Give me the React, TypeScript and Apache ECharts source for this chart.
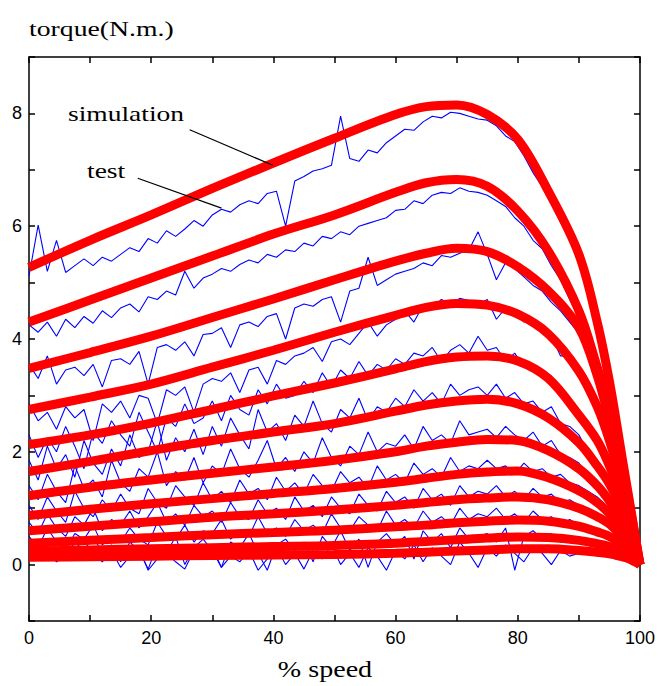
import React, { useEffect, useRef } from "react";
import * as echarts from "echarts";

// Simulation (red) curves: read at these % speed positions
const SIM_X = [0, 10, 20, 30, 40, 50, 60, 65, 70, 75, 80, 85, 90, 93, 95, 97, 98, 100];
const SIM_1 = [5.27, 5.75, 6.2, 6.67, 7.12, 7.56, 7.98, 8.12, 8.15, 7.98, 7.54, 6.62, 5.5, 4.3, 3.25, 1.95, 1.3, 0];
const SIM_2 = [4.3, 4.69, 5.08, 5.47, 5.86, 6.2, 6.6, 6.77, 6.83, 6.71, 6.27, 5.56, 4.5, 3.5, 2.8, 1.8, 1.25, 0];
const SIM_3 = [3.48, 3.76, 4.05, 4.38, 4.71, 5.05, 5.38, 5.52, 5.61, 5.55, 5.28, 4.85, 4.2, 3.35, 2.55, 1.65, 1.12, 0];
const SIM_4 = [2.75, 2.97, 3.2, 3.5, 3.8, 4.12, 4.42, 4.56, 4.63, 4.6, 4.44, 4.09, 3.43, 2.8, 2.2, 1.45, 1.0, 0];
const SIM_5 = [2.13, 2.3, 2.51, 2.75, 2.99, 3.22, 3.47, 3.6, 3.68, 3.7, 3.61, 3.3, 2.65, 2.2, 1.75, 1.2, 0.85, 0];
const SIM_6 = [1.65, 1.83, 2.02, 2.2, 2.35, 2.5, 2.72, 2.83, 2.9, 2.93, 2.85, 2.6, 2.16, 1.75, 1.43, 1.0, 0.75, 0];
const SIM_7 = [1.22, 1.37, 1.5, 1.62, 1.73, 1.85, 2.0, 2.1, 2.17, 2.22, 2.2, 2.02, 1.7, 1.4, 1.13, 0.8, 0.6, 0];
const SIM_8 = [0.87, 0.98, 1.08, 1.17, 1.26, 1.35, 1.46, 1.53, 1.6, 1.64, 1.66, 1.54, 1.31, 1.1, 0.9, 0.62, 0.47, 0];
const SIM_9 = [0.6, 0.68, 0.76, 0.84, 0.9, 0.97, 1.05, 1.1, 1.15, 1.18, 1.2, 1.15, 1.0, 0.85, 0.72, 0.5, 0.38, 0];
const SIM_10 = [0.38, 0.43, 0.48, 0.53, 0.57, 0.61, 0.67, 0.7, 0.74, 0.77, 0.79, 0.77, 0.68, 0.58, 0.5, 0.36, 0.28, 0];
const SIM_11 = [0.24, 0.26, 0.28, 0.3, 0.32, 0.34, 0.38, 0.41, 0.44, 0.47, 0.49, 0.48, 0.43, 0.37, 0.32, 0.23, 0.18, 0];
const SIM_12 = [0.13, 0.14, 0.15, 0.16, 0.17, 0.18, 0.2, 0.22, 0.24, 0.26, 0.28, 0.28, 0.25, 0.22, 0.19, 0.14, 0.11, 0];

// Test (blue) measurements: sampled at these % speed positions
const TEST_X = [
  0, 1.5, 3, 4.5, 6, 7.5, 9, 10.5, 12, 13.5,
  15, 16.5, 18, 19.5, 21, 22.5, 24, 25.5, 27, 28.5,
  30, 31.5, 33, 34.5, 36, 37.5, 39, 40.5, 42, 43.5,
  45, 46.5, 48, 49.5, 51, 52.5, 54, 55.5, 57, 58.5,
  60, 61.5, 63, 64.5, 66, 67.5, 69, 70.5, 72, 73.5,
  75, 76.5, 78, 79.5, 81, 82.5, 84, 85.5, 87, 88.5,
  90, 91.5, 93, 94.5, 96, 97.5, 99,
];
const TEST_1 = [
  5.12, 6.02, 5.2, 5.75, 5.18, 5.3, 5.42, 5.3, 5.45, 5.38,
  5.5, 5.62, 5.55, 5.78, 5.7, 5.92, 5.82, 5.95, 6.1, 6.0,
  6.2, 6.3, 6.25, 6.38, 6.45, 6.4, 6.58, 6.62, 6.0, 6.8,
  6.88, 6.98, 7.02, 7.08, 7.95, 7.2, 7.15, 7.35, 7.3, 7.48,
  7.6, 7.72, 7.7, 7.85, 7.95, 7.92, 8.02, 8.0, 7.95, 7.9,
  7.88, 7.78, 7.6, 7.5, 7.25, 6.95, 6.7, 6.4, 6.08, 5.75,
  5.4, 4.8, 4.2, 3.4, 2.5, 1.5, 0.55,
];
const TEST_2 = [
  4.25, 4.12, 4.3, 4.05, 4.35, 4.2, 4.4, 4.28, 4.5, 4.38,
  4.55, 4.62, 4.48, 4.75, 4.7, 4.85, 4.78, 5.2, 4.9, 5.08,
  5.15, 5.25, 5.2, 5.32, 5.4, 5.35, 5.5, 5.45, 5.58, 5.55,
  5.7, 5.65, 5.82, 5.78, 5.9, 5.85, 6.0, 6.05, 6.1, 6.15,
  6.28, 6.3, 6.45, 6.4, 6.55, 6.6, 6.58, 6.68, 6.62, 6.6,
  6.55, 6.45, 6.35, 6.15, 6.0, 5.75, 5.6, 5.3, 5.05, 4.7,
  4.4, 3.9, 3.4, 2.85, 2.2, 1.4, 0.55,
];
const TEST_3 = [
  3.55, 3.3, 3.7, 3.2, 3.45, 3.5, 3.35, 3.55, 3.15, 3.62,
  3.65, 3.55, 3.78, 3.2, 3.85, 3.9, 3.8, 3.95, 3.7, 4.08,
  4.1, 4.2, 3.85, 4.25, 4.3, 4.22, 4.4, 4.45, 4.0, 4.55,
  4.62, 4.58, 4.7, 4.75, 4.3, 4.85, 4.9, 5.45, 4.95, 5.05,
  5.15, 5.2, 5.25, 5.35, 5.3, 5.48, 5.45, 5.52, 5.58, 5.9,
  5.5, 5.05, 5.35, 5.25, 5.1, 4.95, 4.85, 4.65, 4.5, 4.3,
  4.1, 3.7, 3.25, 2.65, 2.0, 1.3, 0.5,
];
const TEST_4 = [
  2.85, 2.55, 2.7, 2.4, 2.8, 2.6, 2.75, 2.2, 2.85, 2.7,
  2.9, 2.6, 3.0, 2.95, 2.5, 3.1, 3.0, 3.15, 2.7, 3.2,
  3.3, 3.25, 3.4, 3.05, 3.45, 3.5, 3.2, 3.62, 3.55, 3.7,
  3.75, 3.85, 3.6, 3.95, 4.0, 3.9, 4.1, 4.3, 4.05, 4.25,
  4.35, 4.5, 4.3, 4.6, 4.55, 4.7, 4.62, 4.72, 4.68, 4.6,
  4.7, 4.35, 4.55, 4.5, 4.3, 4.35, 4.1, 4.05, 3.7, 3.7,
  3.45, 3.1, 2.75, 2.3, 1.85, 1.2, 0.5,
];
const TEST_5 = [
  2.3, 1.9, 2.25, 2.0, 2.45, 2.1, 1.7, 2.35, 2.15, 2.55,
  2.3, 2.1, 2.7, 2.35, 2.0, 2.6, 2.45, 2.85, 2.5, 2.6,
  2.9, 2.55, 3.0, 2.75, 2.65, 3.1, 2.85, 3.2, 2.95, 3.0,
  3.25, 3.05, 3.4, 3.15, 3.45, 3.3, 3.6, 3.35, 3.55, 3.45,
  3.65, 3.55, 3.75, 3.7, 3.85, 3.6, 3.8, 3.9, 3.75, 4.05,
  3.8, 3.85, 3.6, 3.75, 3.5, 3.55, 3.35, 3.3, 3.1, 2.95,
  2.75, 2.5, 2.25, 1.95, 1.6, 1.05, 0.45,
];
const TEST_6 = [
  1.85, 1.5, 2.1, 1.7, 1.95, 1.55, 2.2, 1.8, 1.6, 2.05,
  1.75, 2.3, 1.9, 2.0, 2.55, 1.85, 2.25, 2.0, 2.4, 1.95,
  2.45, 2.1, 2.6, 2.3, 2.05, 2.75, 2.35, 2.5, 2.2, 2.65,
  2.45, 2.9, 2.5, 2.35, 2.75, 2.6, 2.95, 2.55, 2.8, 2.7,
  2.95, 2.8, 3.1, 2.9, 3.05, 2.85, 3.2, 3.0, 3.1, 3.15,
  3.0, 3.2, 2.95, 3.05, 2.85, 2.9, 2.7, 2.8, 2.5, 2.45,
  2.3, 2.0, 1.85, 1.6, 1.35, 0.95, 0.4,
];
const TEST_7 = [
  1.4, 1.15, 1.6, 1.3, 1.1, 1.75, 1.35, 1.5, 1.2, 1.85,
  1.45, 1.3, 1.7, 1.55, 2.0, 1.4, 1.65, 1.5, 1.9, 1.45,
  1.75, 1.6, 2.05, 1.7, 1.55, 1.85, 2.2, 1.7, 1.9, 1.65,
  2.0, 1.8, 2.25, 1.9, 1.75, 2.1, 1.95, 2.35, 2.0, 2.15,
  2.1, 2.3, 2.05, 2.45, 2.2, 2.3, 2.15, 2.55, 2.3, 2.35,
  2.4, 2.25, 2.45, 2.3, 2.2, 2.35, 2.1, 2.2, 1.95, 1.9,
  1.8, 1.6, 1.5, 1.25, 1.05, 0.75, 0.3,
];
const TEST_8 = [
  1.05, 0.8, 1.2, 0.95, 0.75, 1.3, 1.0, 0.85, 1.15, 0.95,
  1.25, 1.0, 0.9, 1.35, 1.1, 1.0, 1.4, 1.2, 1.05, 1.45,
  1.15, 1.3, 1.1, 1.5, 1.25, 1.35, 1.15, 1.55, 1.3, 1.45,
  1.25, 1.6, 1.4, 1.3, 1.65, 1.45, 1.55, 1.35, 1.75, 1.5,
  1.6, 1.45, 1.8, 1.6, 1.7, 1.55, 1.9, 1.65, 1.75, 1.7,
  1.85, 1.7, 1.75, 1.6, 1.8, 1.65, 1.7, 1.55, 1.6, 1.45,
  1.4, 1.3, 1.2, 1.05, 0.9, 0.6, 0.25,
];
const TEST_9 = [
  0.75, 0.55, 0.9, 0.65, 0.5, 0.85, 0.7, 1.0, 0.6, 0.8,
  0.7, 0.95, 0.65, 0.85, 1.1, 0.75, 0.9, 0.7, 1.05, 0.85,
  0.95, 0.75, 1.1, 0.85, 0.8, 1.15, 0.9, 1.0, 0.8, 1.2,
  0.95, 1.05, 0.85, 1.2, 1.0, 0.9, 1.25, 1.05, 0.95, 1.3,
  1.1, 1.2, 1.0, 1.35, 1.15, 1.25, 1.05, 1.4, 1.2, 1.3,
  1.25, 1.4, 1.2, 1.3, 1.15, 1.35, 1.2, 1.25, 1.1, 1.15,
  1.05, 1.0, 0.9, 0.8, 0.65, 0.45, 0.18,
];
const TEST_10 = [
  0.5, 0.3, 0.65, 0.4, 0.25, 0.55, 0.45, 0.7, 0.35, 0.5,
  0.4, 0.65, 0.45, 0.35, 0.75, 0.5, 0.45, 0.7, 0.4, 0.6,
  0.55, 0.8, 0.45, 0.6, 0.5, 0.85, 0.55, 0.65, 0.5, 0.8,
  0.6, 0.7, 0.55, 0.9, 0.65, 0.6, 0.85, 0.7, 0.6, 0.95,
  0.7, 0.8, 0.65, 0.95, 0.75, 0.85, 0.7, 1.0, 0.8, 0.9,
  0.85, 1.0, 0.8, 0.9, 0.75, 0.95, 0.8, 0.85, 0.7, 0.8,
  0.7, 0.65, 0.6, 0.5, 0.45, 0.32, 0.12,
];
const TEST_11 = [
  0.35, 0.2, 0.45, 0.3, 0.15, 0.4, 0.25, 0.5, 0.2, 0.35,
  0.05, 0.4, 0.25, -0.08, 0.35, 0.2, 0.5, 0.0, 0.3, 0.45,
  0.25, -0.05, 0.4, 0.3, 0.55, 0.2, -0.1, 0.35, 0.45, 0.25,
  0.4, 0.05, 0.5, 0.3, 0.6, 0.25, 0.45, -0.05, 0.4, 0.55,
  0.35, 0.5, 0.1, 0.6, 0.4, 0.55, 0.3, 0.65, 0.45, 0.5,
  0.55, 0.4, 0.65, -0.1, 0.5, 0.6, 0.45, 0.55, 0.4, 0.5,
  0.45, 0.4, 0.35, 0.3, 0.25, 0.2, 0.08,
];
const TEST_12 = [
  0.2, 0.1, 0.25, 0.05, 0.15, 0.3, 0.1, 0.2, 0.05, 0.25,
  -0.05, 0.15, 0.3, -0.1, 0.1, 0.2, 0.05, -0.08, 0.25, 0.1,
  0.3, -0.05, 0.15, 0.05, 0.25, -0.1, 0.1, 0.3, 0.0, 0.2,
  -0.08, 0.25, 0.1, 0.35, 0.0, 0.2, -0.05, 0.3, 0.15, -0.1,
  0.25, 0.1, 0.35, 0.05, 0.3, 0.15, 0.0, 0.4, 0.2, -0.05,
  0.3, 0.15, 0.35, 0.2, 0.05, 0.3, 0.2, 0.0, 0.25, 0.15,
  0.2, 0.25, 0.15, 0.2, 0.1, 0.1, 0.02,
];

// Axis ticks
const X_MIN = 0;
const X_MAX = 100;
const X_TICK = 10;
const X_LABEL_STEP = 20;
const Y_MIN = -1;
const Y_MAX = 9;
const Y_TICK = 1;
const Y_LABEL_STEP = 2;

// Annotation arrows in data coordinates: [fromX, fromY, toX, toY]
const ARROW_SIMULATION = [26.3, 7.71, 39.9, 7.08];
const ARROW_TEST = [17.8, 6.85, 31.5, 6.32];

const SERIF = '"Liberation Serif", "Times New Roman", serif';
const SANS = '"Liberation Sans", Arial, sans-serif';

export default function App() {
  const ref = useRef<HTMLDivElement | null>(null);

  useEffect(() => {
    if (!ref.current) return;
    const chart = echarts.init(ref.current, null, { renderer: "svg" });

    const sims = [SIM_1, SIM_2, SIM_3, SIM_4, SIM_5, SIM_6, SIM_7, SIM_8, SIM_9, SIM_10, SIM_11, SIM_12];
    const tests = [TEST_1, TEST_2, TEST_3, TEST_4, TEST_5, TEST_6, TEST_7, TEST_8, TEST_9, TEST_10, TEST_11, TEST_12];

    const testSeries = tests.map((ys, k) => ({
      name: "test" + (k + 1),
      type: "line",
      data: TEST_X.map((x, i) => [x, ys[i]]),
      symbol: "none",
      silent: true,
      z: 2,
      lineStyle: { color: "#0000ff", width: 1.1 },
    }));

    const simSeries = sims.map((ys, k) => ({
      name: "simulation" + (k + 1),
      type: "line",
      data: SIM_X.map((x, i) => [x, ys[i]]),
      symbol: "none",
      smooth: 0.35,
      clip: false,
      silent: true,
      z: 3,
      lineStyle: { color: "#ff0000", width: 9 },
      markLine:
        k === 0
          ? {
              silent: true,
              symbol: ["none", "arrow"],
              symbolSize: [0, 11],
              label: { show: false },
              lineStyle: { color: "#000", width: 1.2, type: "solid" },
              data: [
                [{ coord: [ARROW_SIMULATION[0], ARROW_SIMULATION[1]] }, { coord: [ARROW_SIMULATION[2], ARROW_SIMULATION[3]] }],
                [{ coord: [ARROW_TEST[0], ARROW_TEST[1]] }, { coord: [ARROW_TEST[2], ARROW_TEST[3]] }],
              ],
            }
          : undefined,
    }));

    const axisLineStyle = { color: "#000", width: 1.5 };

    chart.setOption({
      animation: false,
      backgroundColor: "#ffffff",
      grid: { left: 29, right: 17, top: 57, bottom: 65, containLabel: false },
      xAxis: [
        {
          type: "value",
          min: X_MIN,
          max: X_MAX,
          interval: X_TICK,
          position: "bottom",
          axisLine: { show: true, onZero: false, lineStyle: axisLineStyle },
          axisTick: { show: true, inside: true, length: 6, lineStyle: axisLineStyle },
          axisLabel: {
            color: "#000",
            fontSize: 18,
            fontFamily: SANS,
            margin: 8,
            formatter: (v: number) => (v % X_LABEL_STEP === 0 ? String(v) : ""),
          },
          splitLine: { show: false },
        },
        {
          type: "value",
          min: X_MIN,
          max: X_MAX,
          interval: X_TICK,
          position: "top",
          axisLine: { show: true, onZero: false, lineStyle: axisLineStyle },
          axisTick: { show: true, inside: true, length: 6, lineStyle: axisLineStyle },
          axisLabel: { show: false },
          splitLine: { show: false },
        },
      ],
      yAxis: [
        {
          type: "value",
          min: Y_MIN,
          max: Y_MAX,
          interval: Y_TICK,
          position: "left",
          axisLine: { show: true, onZero: false, lineStyle: axisLineStyle },
          axisTick: { show: true, inside: true, length: 6, lineStyle: axisLineStyle },
          axisLabel: {
            color: "#000",
            fontSize: 18,
            fontFamily: SANS,
            margin: 7,
            formatter: (v: number) => (v % Y_LABEL_STEP === 0 ? String(v) : ""),
          },
          splitLine: { show: false },
        },
        {
          type: "value",
          min: Y_MIN,
          max: Y_MAX,
          interval: Y_TICK,
          position: "right",
          axisLine: { show: true, onZero: false, lineStyle: axisLineStyle },
          axisTick: { show: true, inside: true, length: 6, lineStyle: axisLineStyle },
          axisLabel: { show: false },
          splitLine: { show: false },
        },
      ],
      graphic: [
        {
          type: "text",
          x: 29,
          y: 29,
          scaleX: 1.26,
          style: { text: "torque(N.m.)", font: `22px ${SERIF}`, fill: "#000", verticalAlign: "middle", align: "left" },
        },
        {
          type: "text",
          x: 68,
          y: 113,
          scaleX: 1.25,
          z: 10,
          style: { text: "simulation", font: `22px ${SERIF}`, fill: "#000", verticalAlign: "middle", align: "left" },
        },
        {
          type: "text",
          x: 87,
          y: 170,
          scaleX: 1.25,
          z: 10,
          style: { text: "test", font: `22px ${SERIF}`, fill: "#000", verticalAlign: "middle", align: "left" },
        },
        {
          type: "text",
          x: 325,
          y: 669,
          scaleX: 1.17,
          style: { text: "% speed", font: `24px ${SERIF}`, fill: "#000", verticalAlign: "middle", align: "center" },
        },
      ],
      series: [...testSeries, ...simSeries],
    });

    return () => chart.dispose();
  }, []);

  return (
    <div
      ref={ref}
      style={{ position: "absolute", left: 0, top: 0, width: 658, height: 686, background: "#fff" }}
    />
  );
}
